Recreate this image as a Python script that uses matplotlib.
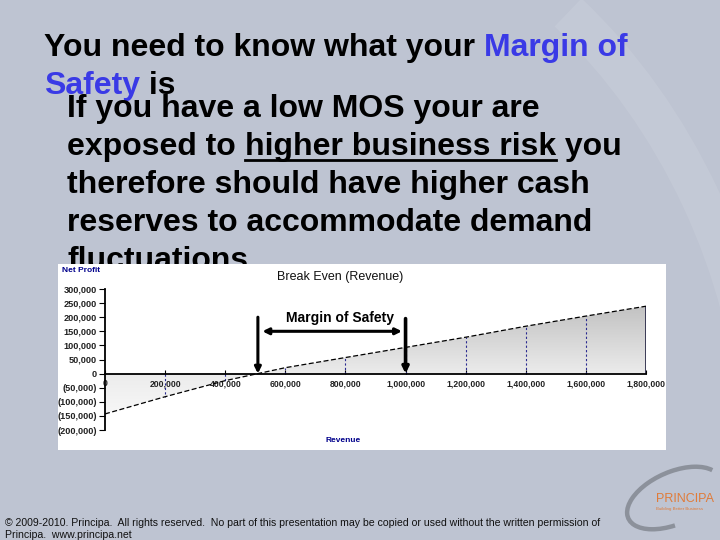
import numpy as np
import matplotlib
matplotlib.use('Agg')
import matplotlib.pyplot as plt
from matplotlib.colors import LinearSegmentedColormap
from matplotlib.patches import Polygon, Arc

# chart data
revenue = [0, 200000, 400000, 600000, 800000, 1000000, 1200000, 1400000, 1600000, 1800000]
net_profit = [-143000, -82000, -25000, 21000, 57000, 93000, 129000, 168000, 204000, 239000]
x_ticks = [0, 200000, 400000, 600000, 800000, 1000000, 1200000, 1400000, 1600000, 1800000]
x_labels = ['0', '200,000', '400,000', '600,000', '800,000', '1,000,000',
            '1,200,000', '1,400,000', '1,600,000', '1,800,000']
y_ticks = [300000, 250000, 200000, 150000, 100000, 50000, 0, -50000, -100000, -150000, -200000]
y_labels = ['300,000', '250,000', '200,000', '150,000', '100,000', '50,000', '0',
            '(50,000)', '(100,000)', '(150,000)', '(200,000)']
actual_revenue = 1000000
breakeven = np.interp(0, net_profit, revenue)

title_parts = [('You need to know what your ', 'black'), ('Margin of', '#3a3ae6')]
title_parts2 = [('Safety', '#3a3ae6'), (' is', 'black')]
body_lines = [
    [('If you have a low MOS your are', False)],
    [('exposed to ', False), ('higher business risk', True), (' you', False)],
    [('therefore should have higher cash', False)],
    [('reserves to accommodate demand', False)],
    [('fluctuations', False)],
]
footer = ['\u00a9 2009-2010. Principa.  All rights reserved.  No part of this presentation may be copied or used without the written permission of',
          'Principa.  www.principa.net']

W, H = 720, 540
BG = '#bec4d2'
plt.rcParams['font.family'] = ['Liberation Sans', 'DejaVu Sans']

fig = plt.figure(figsize=(7.2, 5.4), dpi=100, facecolor=BG)
renderer = fig.canvas.get_renderer()


def fx(px):
    return px / W


def fy(py):
    return 1 - py / H


def put_parts(x, y, parts, size, underline=None):
    # draw text segments one after the other on one baseline (pixel coords)
    for i, (s, color) in enumerate(parts):
        t = fig.text(fx(x), fy(y), s, color=color, fontsize=size, fontweight='bold',
                     va='baseline', ha='left', zorder=3)
        w = t.get_window_extent(renderer).width
        if underline and underline[i]:
            fig.add_artist(plt.Line2D([fx(x), fx(x + w)], [fy(y + 5), fy(y + 5)],
                                      transform=fig.transFigure, color='black', lw=2, zorder=3))
        x += w


# faint swoosh in the background
bg = fig.add_axes([0, 0, 1, 1], zorder=-1)
bg.set_xlim(0, W)
bg.set_ylim(H, 0)
bg.axis('off')
bg.add_patch(Arc((420, 330), 620, 900, angle=-25, theta1=-40, theta2=40,
                 color='white', alpha=0.09, lw=28))

# slide text
put_parts(44, 56, title_parts, 23)
put_parts(44, 94, title_parts2, 23)
for i, line in enumerate(body_lines):
    parts = [(s, 'black') for s, _ in line]
    flags = [u for _, u in line]
    put_parts(67, 117 + 38 * i, parts, 23, underline=flags)

# chart box
box = fig.add_axes([fx(58), fy(450), fx(666 - 58), (450 - 264) / H], zorder=5)
box.set_facecolor('white')
box.set_xticks([])
box.set_yticks([])
for s in box.spines.values():
    s.set_visible(False)

ax = fig.add_axes([fx(105), fy(430), fx(646 - 105), (430 - 289) / H], zorder=6)
ax.patch.set_alpha(0)
ax.set_xlim(0, 1800000)
ax.set_ylim(-200000, 300000)

# gradient area under the profit line
cmap = LinearSegmentedColormap.from_list('g', [(0, '#f7f7f7'), (0.37, '#ececec'), (1, '#c2c2c2')])
grad = np.linspace(0, 1, 256).reshape(-1, 1)
im = ax.imshow(grad, cmap=cmap, aspect='auto', origin='lower',
               extent=[0, max(revenue), min(net_profit), max(net_profit)], zorder=1)
verts = [(revenue[0], 0)] + list(zip(revenue, net_profit)) + [(revenue[-1], 0)]
poly = Polygon(verts, closed=True, facecolor='none', edgecolor='none')
ax.add_patch(poly)
im.set_clip_path(poly)

ax.vlines(revenue[1:-1], 0, net_profit[1:-1], colors='#2a2a90', linestyles=(0, (2, 2)), lw=0.8, zorder=2)
ax.vlines(revenue[-1], 0, net_profit[-1], colors='#202040', lw=1.2, zorder=2)
ax.plot(revenue, net_profit, color='black', lw=0.9, dashes=(4, 2), zorder=3)

ax.spines['right'].set_visible(False)
ax.spines['top'].set_visible(False)
ax.spines['bottom'].set_position(('data', 0))
ax.spines['bottom'].set_linewidth(1.3)
ax.spines['left'].set_linewidth(1.3)
ax.set_xticks(x_ticks)
ax.set_xticklabels(x_labels)
ax.set_yticks(y_ticks)
ax.set_yticklabels(y_labels)
ax.tick_params(axis='x', direction='in', length=3, pad=4, labelsize=6.2, labelcolor='#222222')
ax.tick_params(axis='y', direction='out', length=4, pad=2, labelsize=6.6, labelcolor='#222222')
for lab in ax.get_xticklabels() + ax.get_yticklabels():
    lab.set_fontweight('bold')

# margin of safety arrows
ax.annotate('', xy=(breakeven, 0), xytext=(breakeven, 200000),
            arrowprops=dict(arrowstyle='-|>', lw=2.2, color='black', mutation_scale=9, shrinkA=0, shrinkB=0), zorder=5)
ax.annotate('', xy=(actual_revenue, 0), xytext=(actual_revenue, 195000),
            arrowprops=dict(arrowstyle='-|>', lw=2.6, color='black', mutation_scale=9, shrinkA=0, shrinkB=0), zorder=5)
ax.annotate('', xy=(breakeven + 15000, 150000), xytext=(actual_revenue - 12000, 150000),
            arrowprops=dict(arrowstyle='<|-|>', lw=2.2, color='black', mutation_scale=9, shrinkA=0, shrinkB=0), zorder=5)
ax.text((breakeven + actual_revenue) / 2 + 28000, 196000, 'Margin of Safety', ha='center', va='center',
        fontsize=10, fontweight='bold', zorder=5)

fig.text(fx(277), fy(277), 'Break Even (Revenue)', fontsize=9, va='center', color='#111111', zorder=7)
fig.text(fx(62), fy(270), 'Net Profit', fontsize=6, fontweight='bold', va='center', color='#00008b', zorder=7)
fig.text(fx(343), fy(440), 'Revenue', fontsize=6, fontweight='bold', va='center', ha='center', color='#00008b', zorder=7)

# footer
fig.text(fx(5), fy(523), footer[0], fontsize=7.6, va='center', color='#111111')
fig.text(fx(5), fy(535), footer[1], fontsize=7.6, va='center', color='#111111')

# logo
lg = fig.add_axes([fx(600), 0, fx(120), 80 / H], zorder=2)
lg.set_xlim(600, 720)
lg.set_ylim(540, 460)
lg.axis('off')
lg.add_patch(Arc((674, 498), 100, 52, angle=-24, theta1=112, theta2=348, color='#8c919b', lw=3.2))
lg.text(656, 499, 'PRINCIPA', color='#e07b39', fontsize=9,
        family=['Liberation Sans Narrow', 'Liberation Sans'], ha='left', va='center')
lg.text(656, 509, 'Building Better Business', color='#e07b39', fontsize=3.2, ha='left', va='center')

fig.savefig('out.png', dpi=100, facecolor=BG)
